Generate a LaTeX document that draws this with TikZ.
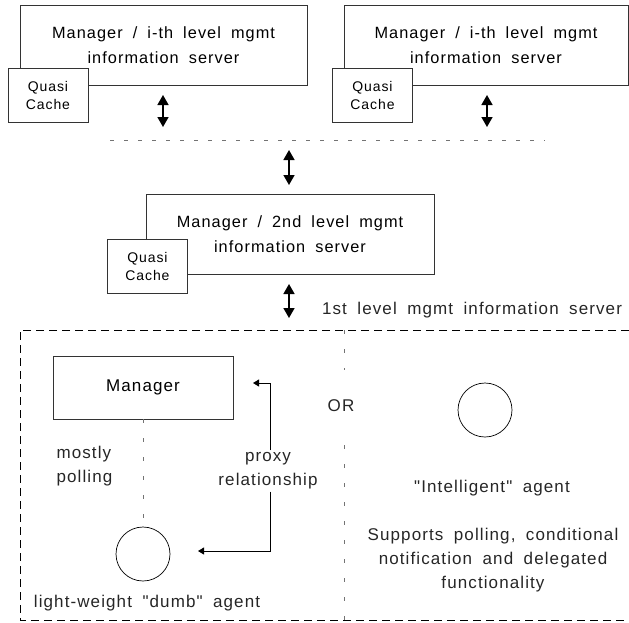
\documentclass[tikz,border=0pt]{standalone}
\usepackage{fontspec}
\setmainfont{Liberation Sans}[LetterSpace=6.5, WordSpace=1.8, Ligatures=TeXOff]
\usetikzlibrary{arrows.meta}
\newcommand{\srvtxt}{\fontsize{16.3}{24.5}\selectfont}
\newcommand{\bigtxt}{\fontsize{17}{24}\selectfont}
\newcommand{\smalltxt}{\fontsize{14}{18}\selectfont}

\begin{document}
\begin{tikzpicture}[x=1pt, y=-1pt, >=Stealth,
    srvbox/.style={draw=black!80, line width=0.9pt, minimum width=287pt, minimum height=80pt, align=center, font=\srvtxt},
    cachebox/.style={draw=black!80, fill=white, line width=0.9pt, minimum width=80pt, minimum height=54pt, align=center, font=\smalltxt},
    dbl/.style={{Triangle[length=10pt,width=11pt]}-{Triangle[length=10pt,width=11pt]}, line width=1.6pt},
    prox/.style={-{Triangle[length=6pt,width=7pt]}, line width=0.9pt},
    lbl/.style={align=center, font=\bigtxt, text=black!85},
    agent/.style={draw, circle, minimum size=54pt, inner sep=0pt, line width=0.7pt},
    finedash/.style={draw=black!55, line width=0.9pt, dash pattern=on 4pt off 15pt}]
    \useasboundingbox (0,0) rectangle (629,622);

    % i-th level servers
    \node[srvbox] (srvA) at (163.5,45) {Manager / i-th level mgmt\\information server};
    \node[srvbox, minimum width=284pt] (srvB) at (486,45) {Manager / i-th level mgmt\\information server};
    \node[cachebox] (cacheA) at (48,95) {Quasi\\Cache};
    \node[cachebox] (cacheB) at (372.5,95) {Quasi\\Cache};
    \coordinate (a1) at (163,95); \coordinate (a2) at (163,127);
    \coordinate (b1) at (487,95); \coordinate (b2) at (487,127);
    \draw[dbl] (a1) -- (a2);
    \draw[dbl] (b1) -- (b2);
    \draw[black!55, line width=0.9pt, dash pattern=on 4pt off 10pt] (110,140) -- (545,140);

    % 2nd level server
    \coordinate (c1) at (289,150); \coordinate (c2) at (289,185);
    \draw[dbl] (c1) -- (c2);
    \node[srvbox, minimum width=288pt] (srvC) at (290,234) {Manager / 2nd level mgmt\\information server};
    \node[cachebox] (cacheC) at (147.5,266) {Quasi\\Cache};
    \coordinate (d1) at (289,284); \coordinate (d2) at (289,318);
    \draw[dbl] (d1) -- (d2);

    % 1st level
    \node[lbl] (lvl1) at (472,310) {1st level mgmt information server};
    \draw[line width=0.9pt, dash pattern=on 8pt off 5pt] (629,330) -- (20,330) -- (20,620) -- (629,620);

    \node[draw=black!80, line width=0.9pt, minimum width=180pt, minimum height=63pt, font=\bigtxt] (mgr) at (143,387.5) {Manager};
    \node[agent] (dumb) at (143,554) {};
    \draw[finedash] (mgr.south) -- (dumb.north);
    \node[lbl, align=left, anchor=west] (poll) at (53,466) {mostly\\polling};
    \node[lbl, inner sep=2pt] (prox) at (268,471) {proxy\\relationship};
    \coordinate (mgrtip) at (253,383);
    \coordinate (dumbtip) at (198,551);
    \draw[prox] ([xshift=2pt]prox.north) |- (mgrtip);
    \draw[prox] ([xshift=2pt]prox.south) |- (dumbtip);
    \node[lbl] (dumblbl) at (147,603) {light-weight "dumb" agent};

    \node[lbl] (orl) at (341,406) {OR};
    \draw[finedash] (344,330) -- (344,370);
    \draw[finedash] (344,445) -- (344,621);

    \node[agent] (smart) at (485,410) {};
    \node[lbl] (smartlbl) at (492,488) {"Intelligent" agent};
    \node[lbl] (smartdesc) at (493,560) {Supports polling, conditional\\notification and delegated\\functionality};
\end{tikzpicture}
\end{document}
